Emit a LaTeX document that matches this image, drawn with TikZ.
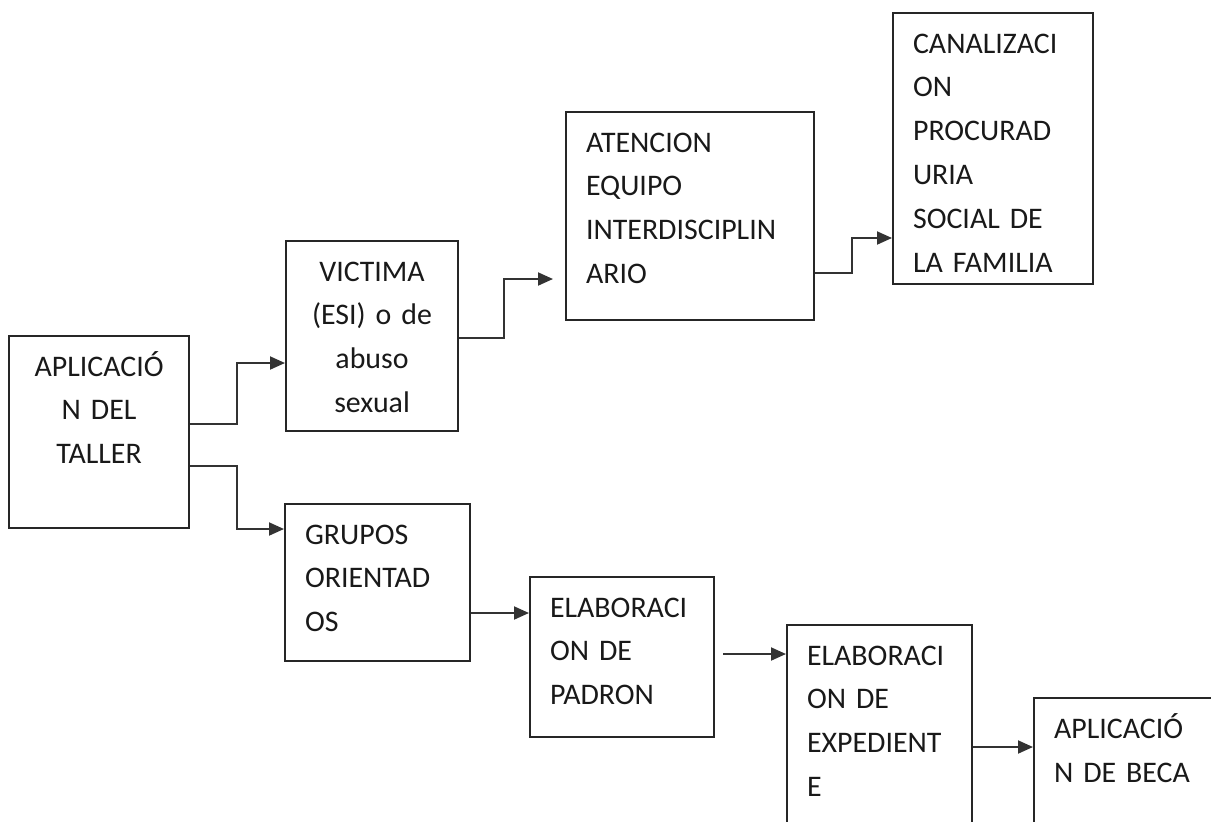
\documentclass[tikz,border=0pt]{standalone}
\usepackage{fontspec}
\setmainfont[WordSpace=0.8]{Carlito}
\usetikzlibrary{arrows.meta,positioning}

\begin{document}
\begin{tikzpicture}[
	caja/.style={draw=black!85, line width=1.2pt, anchor=north west, inner xsep=0.4cm, inner ysep=0pt,
		text height=0.8cm, align=left, font=\fontsize{17}{25}\selectfont, text=black!90},
	flecha/.style={draw=black!80, line width=1.1pt, -{Triangle[length=0.3cm,width=0.26cm]}}]
	\useasboundingbox (0,0) rectangle (24.22,-16.42);
	\clip (0,0) rectangle (24.22,-16.42);
	% Cajas
		\node[caja, text width=2.8cm, text depth=3.04cm, align=center] (taller) at (0.16,-6.70) {APLICACIÓ\\N DEL\\TALLER};
		\node[caja, text width=2.64cm, text depth=3.0cm, align=center] (victima) at (5.70,-4.80) {VICTIMA\\(ESI) o de\\abuso\\sexual};
		\node[caja, text width=4.16cm, text depth=3.36cm] (atencion) at (11.30,-2.22) {ATENCION\\EQUIPO\\INTERDISCIPLIN\\ARIO};
		\node[caja, text width=3.2cm, text depth=4.62cm] (canal) at (17.84,-0.24) {CANALIZACI\\ON\\PROCURAD\\URIA\\SOCIAL DE\\LA FAMILIA};
		\node[caja, text width=2.9cm, text depth=2.34cm] (grupos) at (5.68,-10.06) {GRUPOS\\ORIENTAD\\OS};
		\node[caja, text width=2.88cm, text depth=2.4cm] (padron) at (10.58,-11.52) {ELABORACI\\ON DE\\PADRON};
		\node[caja, text width=2.9cm, text depth=3.8cm] (expediente) at (15.72,-12.48) {ELABORACI\\ON DE\\EXPEDIENT\\E};
		\node[caja, text width=3.8cm, text depth=3.2cm] (beca) at (20.66,-13.94) {APLICACIÓ\\N DE BECA};
	% Puntos de quiebre
		\coordinate (q1) at (4.74,-8.48);
		\coordinate (q2) at (4.74,-7.26);
		\coordinate (q3) at (4.74,-9.32);
		\coordinate (q4) at (4.74,-10.58);
		\coordinate (q5) at (10.08,-6.76);
		\coordinate (q6) at (10.08,-5.58);
		\coordinate (q7) at (11.06,-5.58);
		\coordinate (q8) at (17.04,-5.46);
		\coordinate (q9) at (17.04,-4.76);
		\coordinate (q10) at (14.46,-13.08);
	% Flechas
		\draw[flecha] (taller.east |- q1) -- (q1) -- (q2) -- (victima.west |- q2);
		\draw[flecha] (taller.east |- q3) -- (q3) -- (q4) -- (grupos.west |- q4);
		\draw[flecha] (victima.east |- q5) -- (q5) -- (q6) -- (q7);
		\draw[flecha] (atencion.east |- q8) -- (q8) -- (q9) -- (canal.west |- q9);
		\draw[flecha] (grupos.east |- 0,-12.26) -- (padron.west |- 0,-12.26);
		\draw[flecha] (q10) -- (expediente.west |- q10);
		\draw[flecha] (expediente.east |- 0,-14.94) -- (beca.west |- 0,-14.94);
\end{tikzpicture}
\end{document}
